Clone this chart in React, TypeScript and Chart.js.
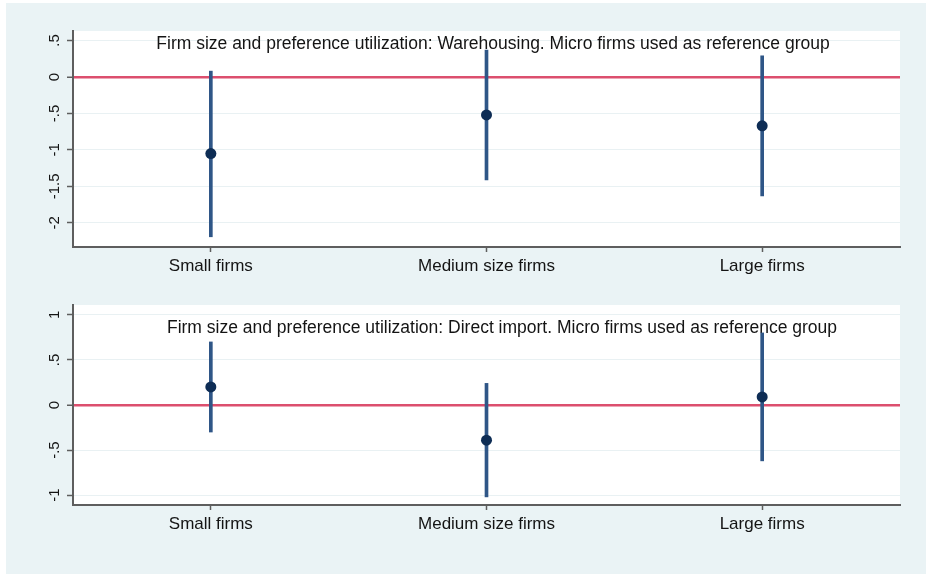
import React, { useEffect, useRef } from "react";
import { Chart, registerables } from "chart.js";

Chart.register(...registerables);

const categories = ["Small firms", "Medium size firms", "Large firms"];

const warehousingEstimate = [-1.05, -0.52, -0.67];
const warehousingLower = [-2.19, -1.41, -1.63];
const warehousingUpper = [0.08, 0.37, 0.29];

const importEstimate = [0.2, -0.39, 0.09];
const importLower = [-0.3, -1.02, -0.62];
const importUpper = [0.7, 0.24, 0.8];

const warehousingTicks = [-2, -1.5, -1, -0.5, 0, 0.5];
const warehousingTickLabels = ["-2", "-1.5", "-1", "-.5", "0", ".5"];
const importTicks = [-1, -0.5, 0, 0.5, 1];
const importTickLabels = ["-1", "-.5", "0", ".5", "1"];

const warehousingRange = [-2.33, 0.63];
const importRange = [-1.11, 1.11];

const warehousingTitle =
  "Firm size and preference utilization: Warehousing. Micro firms used as reference group";
const importTitle =
  "Firm size and preference utilization: Direct import. Micro firms used as reference group";

const FONT = "'Liberation Sans', Arial, Helvetica, sans-serif";
const BG = "#eaf3f5";
const AXIS = "#5e5e5e";
const RED = "#dc4f6e";
const CI = "#2f5687";
const DOT = "#0e2d55";
const GRID = "#e9f1f3";
const TEXT = "#141414";

const panelPlugin = {
  id: "panelDecor",
  beforeDraw(chart: any) {
    const { ctx, chartArea: a } = chart;
    ctx.save();
    ctx.fillStyle = "#ffffff";
    ctx.fillRect(a.left, a.top, a.right - a.left, a.bottom - a.top);
    ctx.restore();
  },
  beforeDatasetsDraw(chart: any, _args: any, opts: any) {
    const { ctx, chartArea: a } = chart;
    ctx.save();
    ctx.fillStyle = TEXT;
    ctx.font = `17.5px ${FONT}`;
    ctx.textAlign = "center";
    ctx.textBaseline = "alphabetic";
    ctx.fillText(opts.text, opts.cx, a.top + opts.dy);
    ctx.restore();
  },
};

type PanelProps = {
  top: number;
  height: number;
  padTop: number;
  padBottom: number;
  est: number[];
  lower: number[];
  upper: number[];
  ticks: number[];
  tickLabels: string[];
  range: number[];
  title: string;
  titleCx: number;
  titleDy: number;
  yPad: number;
};

function Panel(p: PanelProps) {
  const ref = useRef<HTMLCanvasElement>(null);
  useEffect(() => {
    if (!ref.current) return;
    const chart = new Chart(ref.current, {
      type: "bar",
      data: {
        labels: categories,
        datasets: [
          {
            type: "line",
            data: p.est,
            showLine: false,
            pointRadius: 5.5,
            pointHoverRadius: 5.5,
            pointBackgroundColor: DOT,
            pointBorderColor: DOT,
            pointBorderWidth: 0,
            order: 0,
          } as any,
          {
            type: "bar",
            data: p.lower.map((l, i) => [l, p.upper[i]]),
            backgroundColor: CI,
            borderWidth: 0,
            barThickness: 3,
            order: 1,
          } as any,
        ],
      },
      options: {
        animation: false,
        responsive: false,
        layout: { padding: { top: p.padTop, right: 26, left: 0, bottom: p.padBottom } },
        plugins: {
          legend: { display: false },
          tooltip: { enabled: false },
          panelDecor: { text: p.title, cx: p.titleCx, dy: p.titleDy },
        } as any,
        scales: {
          x: {
            type: "category",
            offset: true,
            afterFit: (s: any) => {
              s.height = 43;
            },
            grid: {
              display: true,
              drawOnChartArea: false,
              drawTicks: true,
              offset: false,
              tickLength: 5,
              tickColor: AXIS,
              tickWidth: 1.5,
            },
            border: { display: true, color: AXIS, width: 2 },
            ticks: {
              color: TEXT,
              font: { family: FONT, size: 17 },
              padding: 4,
              maxRotation: 0,
              minRotation: 0,
            },
          },
          y: {
            type: "linear",
            min: p.range[0],
            max: p.range[1],
            afterFit: (s: any) => {
              s.width = 73;
            },
            afterBuildTicks: (s: any) => {
              s.ticks = p.ticks.map((v) => ({ value: v }));
            },
            grid: {
              color: (c: any) => (c.tick && c.tick.value === 0 ? RED : GRID),
              lineWidth: (c: any) => (c.tick && c.tick.value === 0 ? 2.5 : 1),
              tickLength: 6,
              tickColor: AXIS,
              tickWidth: 1.5,
            },
            border: { display: true, color: AXIS, width: 2 },
            ticks: {
              color: TEXT,
              font: { family: FONT, size: 15 },
              minRotation: 90,
              maxRotation: 90,
              crossAlign: "center",
              padding: p.yPad,
              callback: (_v: any, i: number) => p.tickLabels[i],
            },
          },
        },
      } as any,
      plugins: [panelPlugin as any],
    });
    return () => chart.destroy();
  }, []);
  return (
    <canvas
      ref={ref}
      width={926}
      height={p.height}
      style={{ position: "absolute", left: 0, top: p.top, width: 926, height: p.height }}
    />
  );
}

export default function App() {
  return (
    <div style={{ position: "fixed", left: 0, top: 0, width: 926, height: 574, background: "#ffffff" }}>
      <div style={{ position: "absolute", left: 6, top: 3, width: 920, height: 571, background: BG }} />
      <Panel
        top={0}
        height={290}
        padTop={31}
        padBottom={0}
        est={warehousingEstimate}
        lower={warehousingLower}
        upper={warehousingUpper}
        ticks={warehousingTicks}
        tickLabels={warehousingTickLabels}
        range={warehousingRange}
        title={warehousingTitle}
        titleCx={493}
        titleDy={18}
        yPad={-1}
      />
      <Panel
        top={290}
        height={284}
        padTop={15}
        padBottom={26}
        est={importEstimate}
        lower={importLower}
        upper={importUpper}
        ticks={importTicks}
        tickLabels={importTickLabels}
        range={importRange}
        title={importTitle}
        titleCx={502}
        titleDy={28}
        yPad={3}
      />
    </div>
  );
}
